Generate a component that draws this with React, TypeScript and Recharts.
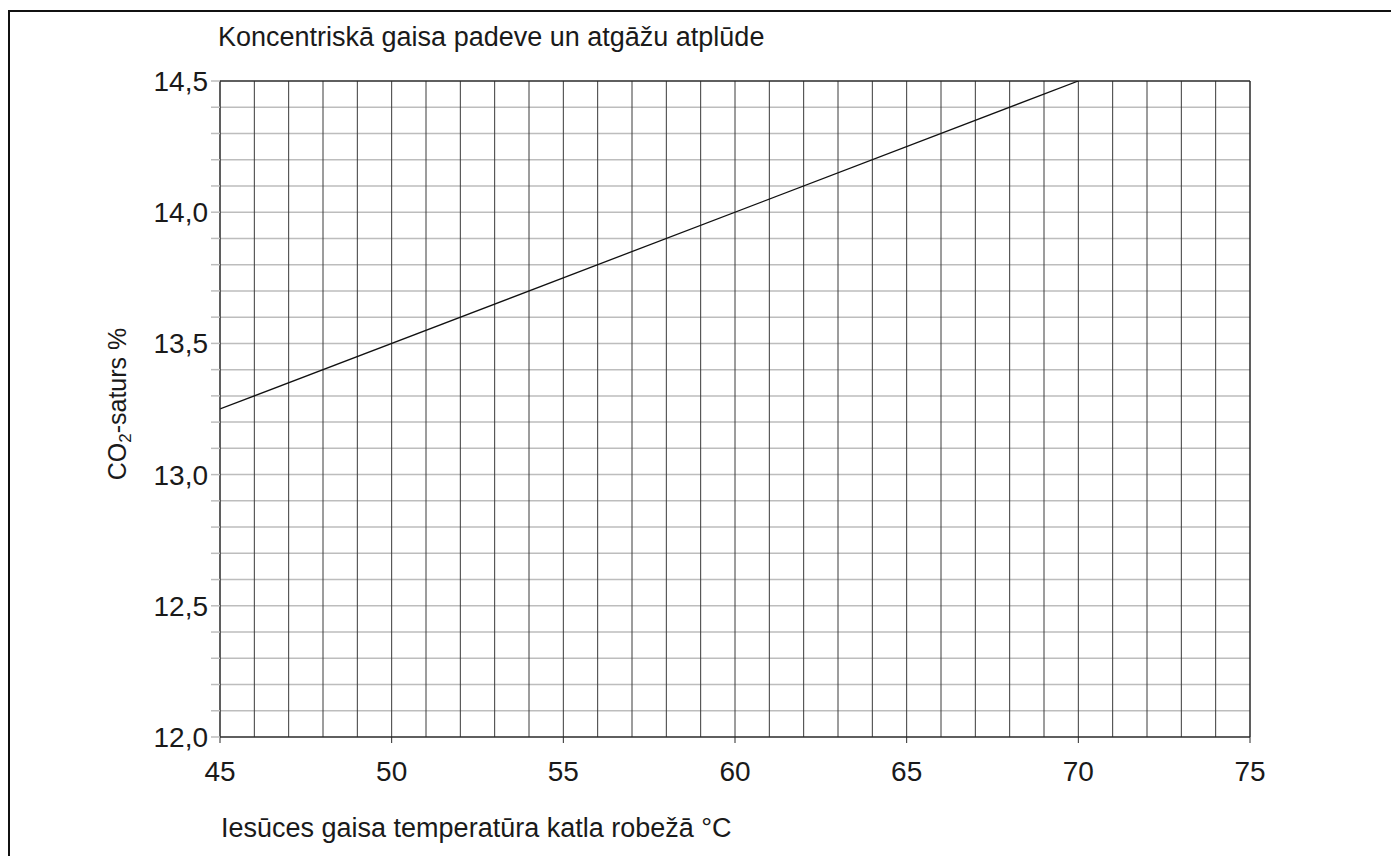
import { LineChart, Line, XAxis, YAxis, ReferenceLine } from 'recharts';

// temperatūra (°C) -> CO2 saturs (%)
const tempPoints = [45, 70];
const co2Values = [13.25, 14.5];

const xTicks = [45, 50, 55, 60, 65, 70, 75];
const xGridValues = [
  46, 47, 48, 49, 50, 51, 52, 53, 54, 55, 56, 57, 58, 59, 60,
  61, 62, 63, 64, 65, 66, 67, 68, 69, 70, 71, 72, 73, 74,
];
const yTicks = [
  12.0, 12.1, 12.2, 12.3, 12.4, 12.5, 12.6, 12.7, 12.8, 12.9,
  13.0, 13.1, 13.2, 13.3, 13.4, 13.5, 13.6, 13.7, 13.8, 13.9,
  14.0, 14.1, 14.2, 14.3, 14.4, 14.5,
];
const yLabelTicks = [12.0, 12.5, 13.0, 13.5, 14.0, 14.5];

const data = tempPoints.map((t, i) => ({ t, co2: co2Values[i] }));

const FONT = '"Liberation Sans", Arial, sans-serif';
const DARK = '#2a2a2a';
const GRAY = '#bdbdbd';

const fmtY = (v: number) =>
  yLabelTicks.some(l => Math.abs(l - v) < 1e-6) ? v.toFixed(1).replace('.', ',') : '';

export default function App() {
  return (
    <div style={{ position: 'relative', width: 1391, height: 848, fontFamily: FONT, color: '#1a1a1a' }}>
      <div
        style={{
          position: 'absolute', left: 0, top: 2, width: 1387, height: 900,
          border: '2px solid #111', borderBottom: 'none', boxSizing: 'border-box',
        }}
      />
      <div style={{ position: 'absolute', left: 210, top: 16, fontSize: 27, lineHeight: 1, whiteSpace: 'nowrap' }}>
        Koncentriskā gaisa padeve un atgāžu atplūde
      </div>
      <div style={{ position: 'absolute', left: 213, top: 807, fontSize: 27, lineHeight: 1, whiteSpace: 'nowrap' }}>
        Iesūces gaisa temperatūra katla robežā °C
      </div>
      <div
        style={{
          position: 'absolute', left: 109, top: 396, fontSize: 25, lineHeight: 1, whiteSpace: 'nowrap',
          transform: 'translate(-50%, -50%) rotate(-90deg)',
        }}
      >
        CO<sub style={{ fontSize: 17, verticalAlign: -5, lineHeight: 0 }}>2</sub>-saturs %
      </div>
      <div style={{ position: 'absolute', left: 0, top: 0 }}>
        <LineChart width={1380} height={840} data={data} margin={{ top: 73, right: 138, bottom: 71, left: 152 }}>
          <XAxis
            dataKey="t"
            type="number"
            domain={[45, 75]}
            ticks={xTicks}
            allowDataOverflow
            height={40}
            tickSize={6}
            tickMargin={18}
            axisLine={{ stroke: DARK, strokeWidth: 1.5 }}
            tickLine={{ stroke: DARK, strokeWidth: 1 }}
            tick={{ fill: '#1a1a1a', fontSize: 28, fontFamily: FONT }}
          />
          <YAxis
            type="number"
            domain={[12, 14.5]}
            ticks={yTicks}
            interval={0}
            allowDataOverflow
            width={60}
            tickSize={9}
            tickMargin={3}
            tickFormatter={fmtY}
            axisLine={{ stroke: DARK, strokeWidth: 1.5 }}
            tickLine={{ stroke: GRAY, strokeWidth: 1.5 }}
            tick={{ fill: '#1a1a1a', fontSize: 28, fontFamily: FONT }}
          />
          {yTicks.slice(1, -1).map(v => (
            <ReferenceLine key={'h' + v} y={v} stroke={GRAY} strokeWidth={1.5} />
          ))}
          {xGridValues.map(v => (
            <ReferenceLine key={'v' + v} x={v} stroke="#3a3a3a" strokeWidth={1} />
          ))}
          <ReferenceLine y={14.5} stroke={DARK} strokeWidth={1.5} />
          <ReferenceLine x={75} stroke={DARK} strokeWidth={1.5} />
          <Line
            type="linear"
            dataKey="co2"
            stroke="#111"
            strokeWidth={1.3}
            dot={false}
            isAnimationActive={false}
          />
        </LineChart>
      </div>
    </div>
  );
}
